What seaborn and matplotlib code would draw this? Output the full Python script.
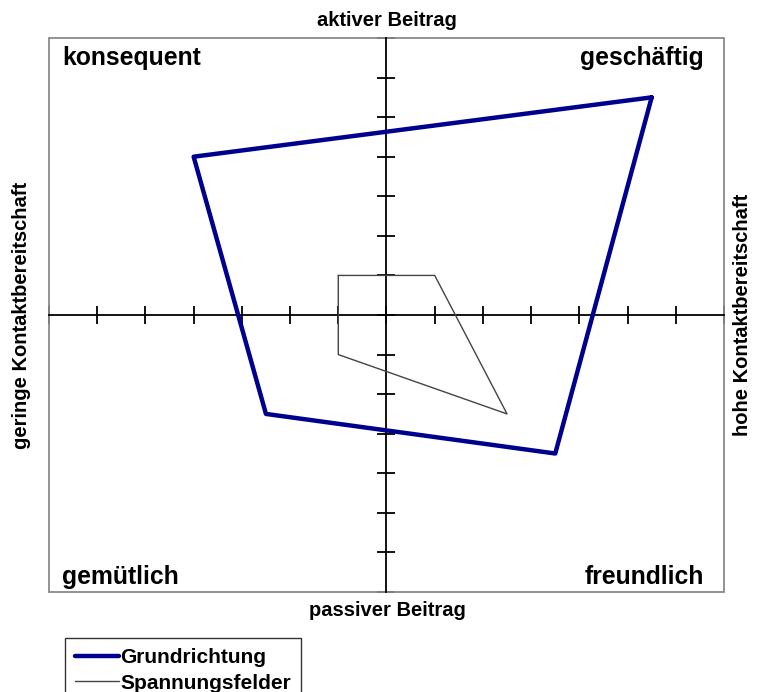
import numpy as np
import matplotlib
matplotlib.use("Agg")
import matplotlib.pyplot as plt
from matplotlib.patches import Rectangle
import seaborn as sns

# Polygon corners (closed: first point repeated at the end)
grund_x = [5.5, -4.0, -2.5, 3.5, 5.5]
grund_y = [5.5, 4.0, -2.5, -3.5, 5.5]
spann_x = [-1.0, 1.0, 2.5, -1.0, -1.0]
spann_y = [1.0, 1.0, -2.5, -1.0, 1.0]

tick_vals = list(range(-7, 8))
corner_labels = ["konsequent", "geschäftig", "gemütlich", "freundlich"]
axis_labels = ["aktiver Beitrag", "passiver Beitrag",
               "geringe Kontaktbereitschaft", "hohe Kontaktbereitschaft"]
legend_labels = ["Grundrichtung", "Spannungsfelder"]


def main():
    sns.set_style("white")
    plt.rcParams['font.family'] = ['Liberation Sans', 'DejaVu Sans']
    plt.rcParams['text.color'] = 'black'

    fig = plt.figure(figsize=(7.58, 6.92), dpi=100)
    ax = fig.add_axes([49 / 758, 100 / 692, 675 / 758, 554 / 692])

    # --- polygons (no aggregation, keep point order) ---
    sns.lineplot(x=grund_x, y=grund_y, sort=False, estimator=None,
                 color='#00008f', linewidth=3.2, ax=ax,
                 label=legend_labels[0], legend=False)
    sns.lineplot(x=spann_x, y=spann_y, sort=False, estimator=None,
                 color='#444444', linewidth=1.0, ax=ax,
                 label=legend_labels[1], legend=False)

    ax.set_xlim(-7, 7)
    ax.set_ylim(-7, 7)

    # --- center cross with ticks ---
    for side in ['top', 'right']:
        ax.spines[side].set_visible(False)
    ax.spines['left'].set_position('zero')
    ax.spines['bottom'].set_position('zero')
    for side in ['left', 'bottom']:
        ax.spines[side].set_color('black')
        ax.spines[side].set_linewidth(1.3)
        ax.spines[side].set_zorder(1)
    ax.set_xticks(tick_vals)
    ax.set_yticks(tick_vals)
    ax.set_xticklabels([])
    ax.set_yticklabels([])
    ax.tick_params(bottom=True, left=True, direction='inout', length=13,
                   width=1.3, color='black')
    ax.set_xlabel('')
    ax.set_ylabel('')

    # outer grey frame
    ax.add_patch(Rectangle((0, 0), 1, 1, transform=ax.transAxes, fill=False,
                           edgecolor='#8a8a8a', linewidth=1.3, clip_on=False))

    # --- quadrant labels ---
    kw = dict(transform=ax.transAxes, fontsize=17.8, fontweight='bold', color='black')
    ax.text(0.019, 0.963, corner_labels[0], ha='left', va='center', **kw)
    ax.text(0.970, 0.963, corner_labels[1], ha='right', va='center', **kw)
    ax.text(0.019, 0.027, corner_labels[2], ha='left', va='center', **kw)
    ax.text(0.970, 0.027, corner_labels[3], ha='right', va='center', **kw)

    # --- axis descriptions ---
    akw = dict(fontsize=14.5, fontweight='bold', color='black', ha='center', va='center')
    cx = 387 / 758
    fig.text(cx, 1 - 20 / 692, axis_labels[0], **akw)
    fig.text(cx, 1 - 611 / 692, axis_labels[1], **akw)
    fig.text(22 / 758, 1 - 315 / 692, axis_labels[2], rotation=90, **akw)
    fig.text(742 / 758, 1 - 315 / 692, axis_labels[3], rotation=90, **akw)

    # --- legend ---
    handles, labels = ax.get_legend_handles_labels()
    leg = fig.legend(handles, labels, loc='upper left',
                     bbox_to_anchor=(65 / 758, 1 - 638 / 692),
                     prop={'weight': 'bold', 'size': 15}, labelcolor='black',
                     frameon=True, fancybox=False, edgecolor='black',
                     handlelength=2.1, handletextpad=0.05, borderpad=0.5,
                     labelspacing=0.3, borderaxespad=0)
    leg.get_frame().set_linewidth(1.0)

    fig.savefig('out.png', dpi=100)


if __name__ == "__main__":
    main()
